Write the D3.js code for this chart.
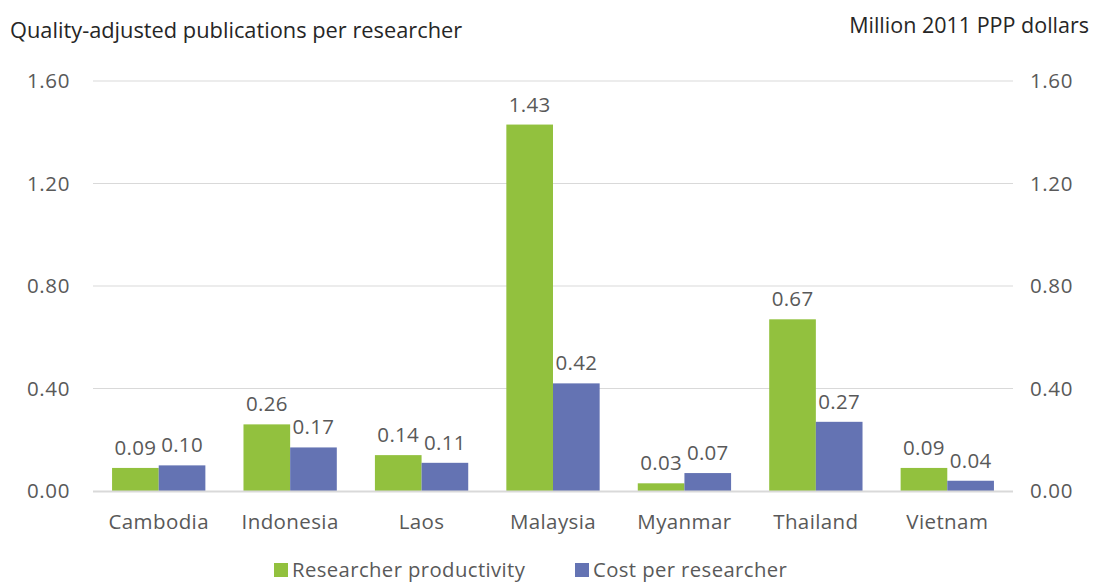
<!DOCTYPE html>
<html>
<head>
<meta charset="utf-8">
<script src="https://cdn.jsdelivr.net/npm/d3@7"></script>
<style>
  body { margin: 0; background: #fff; }
  svg text { font-family: "Open Sans", sans-serif; }
</style>
</head>
<body>
<svg id="chart" width="1093" height="584"></svg>
<script>
const countries = ["Cambodia", "Indonesia", "Laos", "Malaysia", "Myanmar", "Thailand", "Vietnam"];
const productivity = [0.09, 0.26, 0.14, 1.43, 0.03, 0.67, 0.09];
const costPerResearcher = [0.10, 0.17, 0.11, 0.42, 0.07, 0.27, 0.04];
const ticks = [0, 0.4, 0.8, 1.2, 1.6];
const seriesNames = ["Researcher productivity", "Cost per researcher"];
const colors = ["#92c13e", "#6473b3"];

const svg = d3.select("#chart");
const margin = { left: 93, right: 80, top: 81, bottom: 93 };
const width = 1093, height = 584;
const labelSize = 20.5;

const x = d3.scaleBand()
  .domain(countries)
  .range([margin.left, width - margin.right])
  .paddingInner(0.29)
  .paddingOuter(0.145);

const xSeries = d3.scaleBand()
  .domain([0, 1])
  .range([0, x.bandwidth()]);

const y = d3.scaleLinear()
  .domain([0, 1.6])
  .range([height - margin.bottom, margin.top]);

// gridlines
svg.append("g")
  .selectAll("line")
  .data(ticks.filter(d => d > 0))
  .join("line")
  .attr("x1", margin.left)
  .attr("x2", width - margin.right)
  .attr("y1", d => y(d))
  .attr("y2", d => y(d))
  .attr("stroke", "#d9d9d9")
  .attr("stroke-width", 1);

// left and right tick labels
svg.append("g")
  .selectAll("text")
  .data(ticks)
  .join("text")
  .attr("x", 70)
  .attr("y", d => y(d))
  .attr("dy", "0.35em")
  .attr("text-anchor", "end")
  .attr("font-size", labelSize)
  .attr("letter-spacing", 0.6)
  .attr("fill", "#595959")
  .text(d => d3.format(".2f")(d));

svg.append("g")
  .selectAll("text")
  .data(ticks)
  .join("text")
  .attr("x", 1030)
  .attr("y", d => y(d))
  .attr("dy", "0.35em")
  .attr("text-anchor", "start")
  .attr("font-size", labelSize)
  .attr("letter-spacing", 0.6)
  .attr("fill", "#595959")
  .text(d => d3.format(".2f")(d));

// bars
const rows = countries.map((c, i) => ({ country: c, values: [productivity[i], costPerResearcher[i]] }));

const groups = svg.append("g")
  .selectAll("g")
  .data(rows)
  .join("g")
  .attr("transform", d => `translate(${x(d.country)},0)`);

groups.selectAll("rect")
  .data(d => d.values.map((v, k) => ({ v, k })))
  .join("rect")
  .attr("x", d => xSeries(d.k))
  .attr("width", xSeries.bandwidth())
  .attr("y", d => y(d.v))
  .attr("height", d => y(0) - y(d.v))
  .attr("fill", d => colors[d.k]);

groups.selectAll("text")
  .data(d => d.values.map((v, k) => ({ v, k })))
  .join("text")
  .attr("x", d => xSeries(d.k) + xSeries.bandwidth() / 2)
  .attr("y", d => y(d.v) - 13)
  .attr("text-anchor", "middle")
  .attr("font-size", labelSize)
  .attr("letter-spacing", 0.3)
  .attr("fill", "#595959")
  .text(d => d3.format(".2f")(d.v));

// zero axis line
svg.append("line")
  .attr("x1", margin.left)
  .attr("x2", width - margin.right)
  .attr("y1", y(0) + 0.5)
  .attr("y2", y(0) + 0.5)
  .attr("stroke", "#d9d9d9")
  .attr("stroke-width", 2);

// category labels
svg.append("g")
  .selectAll("text")
  .data(countries)
  .join("text")
  .attr("x", d => x(d) + x.bandwidth() / 2)
  .attr("y", 529)
  .attr("text-anchor", "middle")
  .attr("font-size", labelSize)
  .attr("letter-spacing", 0.4)
  .attr("fill", "#595959")
  .text(d => d);

// axis titles
svg.append("text")
  .attr("x", 10)
  .attr("y", 38)
  .attr("font-size", 21.8)
  .attr("fill", "#262626")
  .text("Quality-adjusted publications per researcher");

svg.append("text")
  .attr("x", 1089)
  .attr("y", 33)
  .attr("text-anchor", "end")
  .attr("font-size", 21.5)
  .attr("fill", "#262626")
  .text("Million 2011 PPP dollars");

// legend
const legendX = [274, 575];
const legend = svg.append("g")
  .selectAll("g")
  .data(seriesNames)
  .join("g")
  .attr("transform", (d, i) => `translate(${legendX[i]},563)`);

legend.append("rect")
  .attr("width", 14)
  .attr("height", 14)
  .attr("fill", (d, i) => colors[i]);

legend.append("text")
  .attr("x", 18)
  .attr("y", 14)
  .attr("font-size", 20.3)
  .attr("letter-spacing", 0.4)
  .attr("fill", "#595959")
  .text(d => d);
</script>
</body>
</html>
